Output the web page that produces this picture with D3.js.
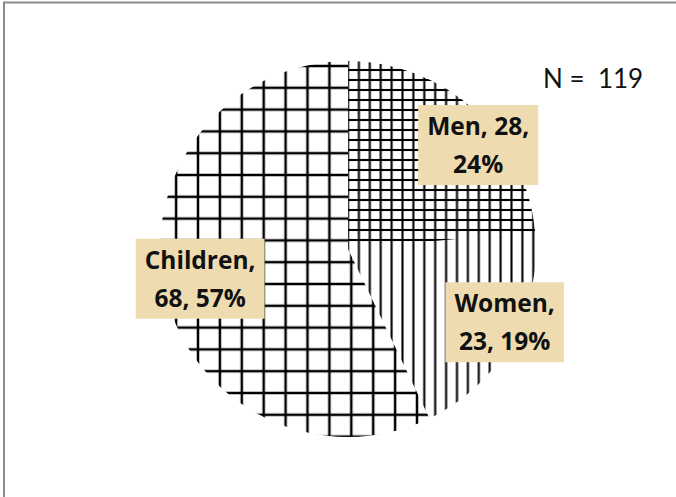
<!DOCTYPE html>
<html>
<head>
<meta charset="utf-8">
<script src="https://cdn.jsdelivr.net/npm/d3@7"></script>
<style>
    body { margin: 0; background: #fff; }
</style>
</head>
<body>
<div id="chart"></div>
<script>
// data
var categories = ["Men", "Women", "Children"];
var counts = [28, 23, 68];

var width = 676, height = 497;
var cx = 348, cy = 249, radius = 188;

var total = d3.sum(counts);
var data = categories.map(function (c, i) {
    return {name: c, count: counts[i], pct: Math.round(counts[i] / total * 100)};
});

var svg = d3.select("#chart").append("svg")
    .attr("width", width)
    .attr("height", height)
    .style("font-family", "Lato, 'Open Sans', sans-serif");

// chart frame (only the top and left edges fall inside the picture)
svg.append("rect")
    .attr("x", 4).attr("y", 2.5)
    .attr("width", width + 20).attr("height", height + 20)
    .attr("fill", "#fff")
    .attr("stroke", "#8c8c8c")
    .attr("stroke-width", 2);

var defs = svg.append("defs");

// hatch patterns, x0/y0 = page position of one of the lines
function hatch(id, w, h, x0, y0, sw, vert, horiz) {
    var p = defs.append("pattern")
        .attr("id", id)
        .attr("patternUnits", "userSpaceOnUse")
        .attr("width", w).attr("height", h)
        .attr("x", x0 - cx - w / 2)
        .attr("y", y0 - cy - h / 2);
    if (vert) {
        p.append("line")
            .attr("x1", w / 2).attr("x2", w / 2)
            .attr("y1", -1).attr("y2", h + 1)
            .attr("stroke", "#000").attr("stroke-width", sw);
    }
    if (horiz) {
        p.append("line")
            .attr("x1", -1).attr("x2", w + 1)
            .attr("y1", h / 2).attr("y2", h / 2)
            .attr("stroke", "#000").attr("stroke-width", sw);
    }
}
hatch("pat-Men", 10.9, 10, 348, 230, 2.1, true, true);       // small grid
hatch("pat-Women", 10.9, 10, 348, 230, 2.1, true, false);    // vertical lines
hatch("pat-Children", 21.9, 21.8, 198, 66, 2.5, true, true); // large grid

var g = svg.append("g")
    .attr("transform", "translate(" + cx + "," + cy + ")");

var pie = d3.pie()
    .sort(null)
    .value(function (d) { return d.count; });

var arc = d3.arc().innerRadius(0).outerRadius(radius);
var labelArc = d3.arc().innerRadius(165).outerRadius(165);

var arcs = pie(data);

g.selectAll("path.slice")
    .data(arcs)
    .enter().append("path")
    .attr("class", "slice")
    .attr("d", arc)
    .attr("fill", function (d) { return "url(#pat-" + d.data.name + ")"; });

// label nudges from the centroid
var nudge = {Men: [19, 18], Women: [13, -8], Children: [13, -7]};
var maxLine = 118;
var lblFont = "'Open Sans', Lato, sans-serif";
var lblSize = 24.5;

var labels = g.selectAll("g.lbl")
    .data(arcs)
    .enter().append("g")
    .attr("class", "lbl")
    .attr("transform", function (d) {
        var c = labelArc.centroid(d), n = nudge[d.data.name];
        return "translate(" + (c[0] + n[0]) + "," + (c[1] + n[1]) + ")";
    });

labels.each(function (d) {
    var lg = d3.select(this);
    var words = (d.data.name + ", " + d.data.count + ", " + d.data.pct + "%").split(" ");
    var probe = lg.append("text")
        .style("font-family", lblFont)
        .attr("font-size", lblSize).attr("font-weight", 700);
    var lines = [], cur = "";
    words.forEach(function (w) {
        var test = cur ? cur + " " + w : w;
        probe.text(test);
        if (cur && probe.node().getComputedTextLength() > maxLine) {
            lines.push(cur);
            cur = w;
        } else {
            cur = test;
        }
    });
    lines.push(cur);
    probe.remove();

    var rect = lg.append("rect");
    var txt = lg.append("text")
        .style("font-family", lblFont)
        .attr("text-anchor", "middle")
        .attr("font-size", lblSize)
        .attr("font-weight", 700)
        .attr("fill", "#111");
    lines.forEach(function (l, i) {
        txt.append("tspan")
            .attr("x", 0)
            .attr("y", i === 0 ? -10 : 28)
            .text(l);
    });
    var bw = txt.node().getBBox().width + 18;
    rect.attr("x", -bw / 2).attr("y", -40)
        .attr("width", bw).attr("height", 80)
        .attr("fill", "#eedcb0");
});

svg.append("text")
    .attr("x", 543)
    .attr("y", 88)
    .attr("font-size", 26)
    .attr("fill", "#111")
    .style("white-space", "pre")
    .text("N =  " + total);
</script>
</body>
</html>
